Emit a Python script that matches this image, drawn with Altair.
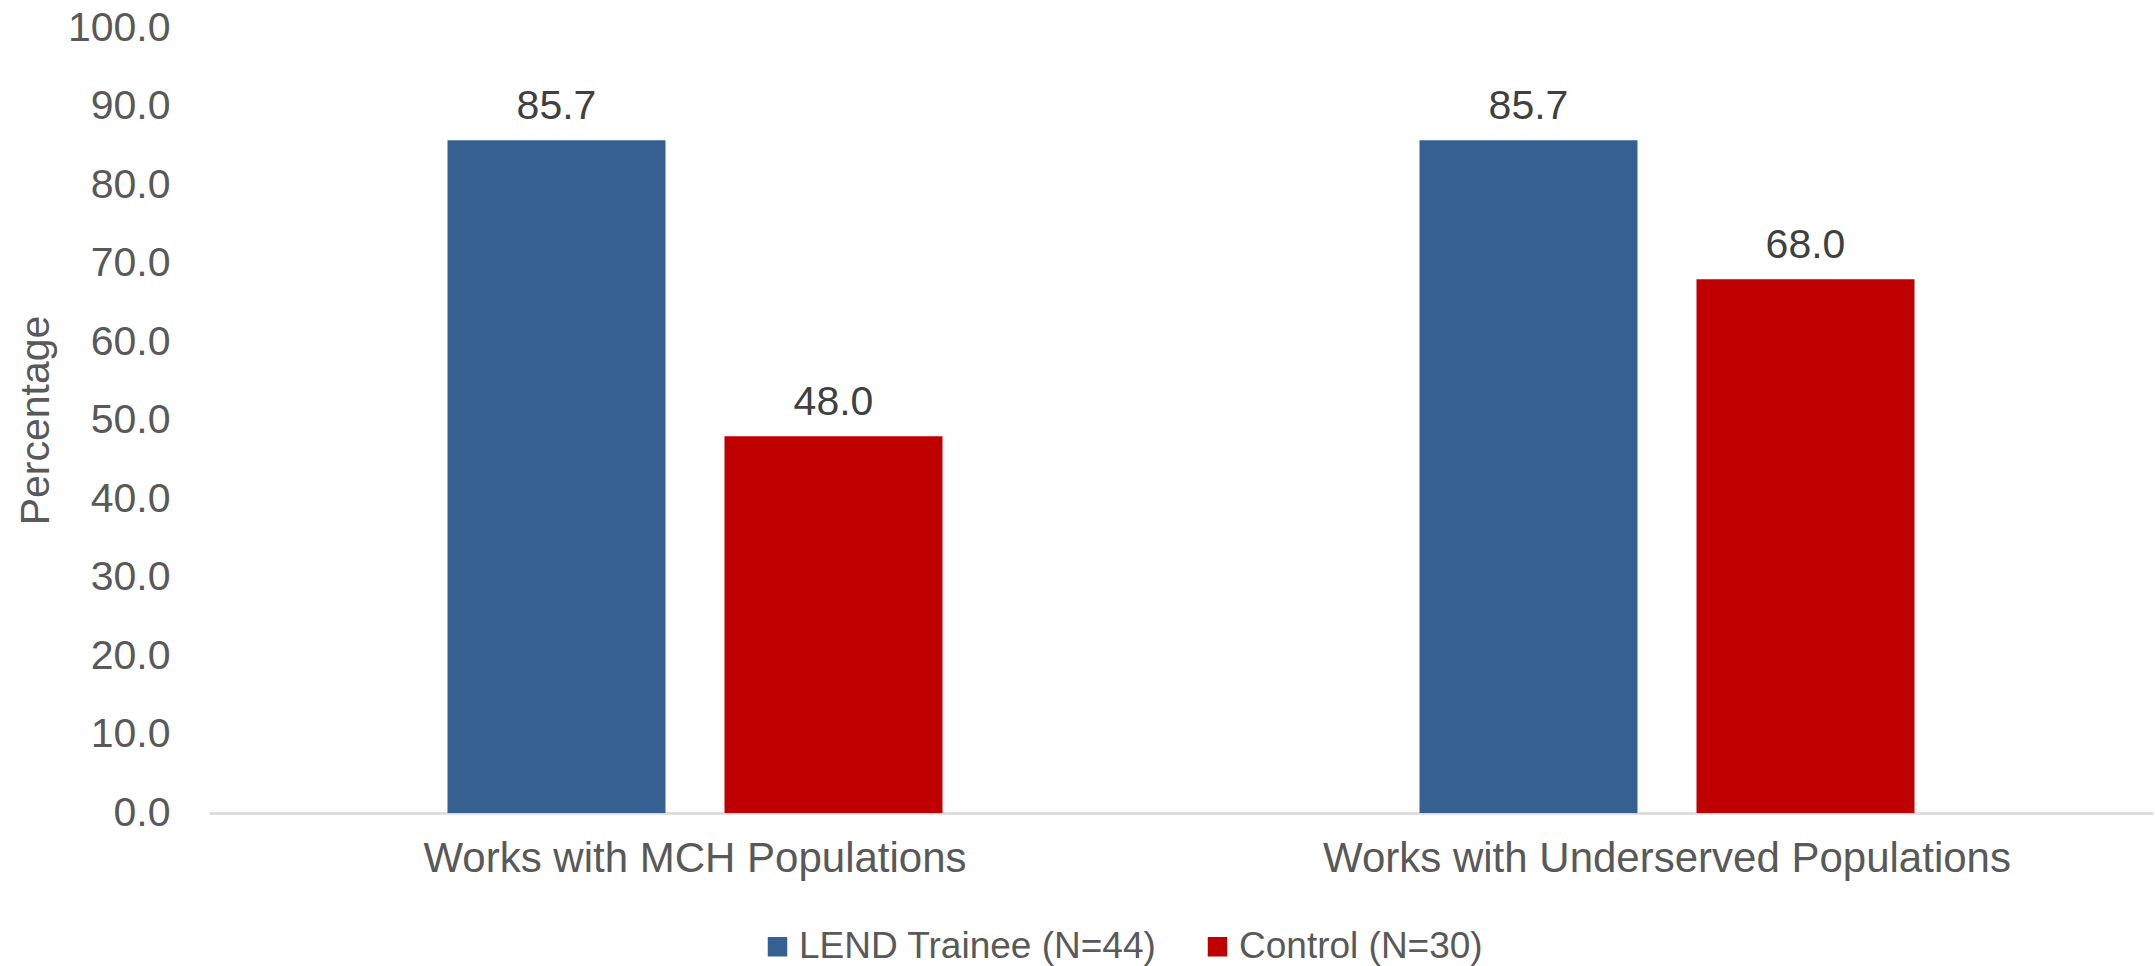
import altair as alt
import pandas as pd

# Categories, series names and values
categories = ["Works with MCH Populations", "Works with Underserved Populations"]
groups = ["LEND Trainee (N=44)", "Control (N=30)"]
lend_values = [85.7, 85.7]
control_values = [48.0, 68.0]
group_colors = ["#376092", "#C00000"]
y_ticks = [0, 10, 20, 30, 40, 50, 60, 70, 80, 90, 100]

rows = []
for cat, v in zip(categories, lend_values):
    rows.append({"category": cat, "group": groups[0], "value": v})
for cat, v in zip(categories, control_values):
    rows.append({"category": cat, "group": groups[1], "value": v})
df = pd.DataFrame(rows)

FONT = "Liberation Sans"

x_enc = alt.X(
    "category:N",
    sort=categories,
    scale=alt.Scale(paddingInner=0, paddingOuter=0),
    axis=alt.Axis(
        title=None,
        labelAngle=0,
        labelFontSize=42,
        labelColor="#595959",
        labelFont=FONT,
        labelPadding=25,
        labelLimit=0,
        ticks=False,
        domainColor="#D9D9D9",
        domainWidth=2.6,
        grid=False,
    ),
)
offset_enc = alt.XOffset(
    "group:N",
    sort=groups,
    scale=alt.Scale(paddingInner=0.213, paddingOuter=0.861),
)
y_enc = alt.Y(
    "value:Q",
    scale=alt.Scale(domain=[0, 100], nice=False),
    axis=alt.Axis(
        title="Percentage",
        values=y_ticks,
        format=".1f",
        labelFontSize=41,
        labelColor="#595959",
        labelFont=FONT,
        labelPadding=39,
        ticks=False,
        tickSize=0,
        domain=False,
        grid=False,
        titleFontSize=41,
        titleFont=FONT,
        titleColor="#595959",
        titleFontWeight="normal",
        titleAngle=270,
        titleX=-161,
        titleY=392,
        titleAlign="center",
        titleBaseline="alphabetic",
    ),
)

bars = alt.Chart(df).mark_bar().encode(
    x=x_enc,
    xOffset=offset_enc,
    y=y_enc,
    color=alt.Color(
        "group:N",
        sort=groups,
        scale=alt.Scale(domain=groups, range=group_colors),
        legend=alt.Legend(
            title=None,
            orient="none",
            direction="horizontal",
            legendX=550,
            legendY=900,
            symbolType="square",
            symbolSize=380,
            symbolStrokeWidth=0,
            labelFontSize=37,
            labelFont=FONT,
            labelColor="#595959",
            labelOffset=3,
            labelLimit=0,
            columnPadding=42,
            padding=0,
        ),
    ),
)

labels = alt.Chart(df).mark_text(
    fontSize=41,
    font=FONT,
    color="#404040",
    baseline="alphabetic",
    dy=-21,
).encode(
    x=alt.X("category:N", sort=categories),
    xOffset=alt.XOffset("group:N", sort=groups),
    y=alt.Y("value:Q"),
    text=alt.Text("value:Q", format=".1f"),
)

chart = (
    alt.layer(bars, labels)
    .properties(
        width=1944,
        height=785,
        autosize=alt.AutoSizeParams(type="none"),
        padding={"left": 209, "top": 28, "right": 2, "bottom": 153},
        background="white",
    )
    .configure_view(stroke=None)
)

chart.save("out.html", embed_options={"renderer": "svg", "actions": False})
